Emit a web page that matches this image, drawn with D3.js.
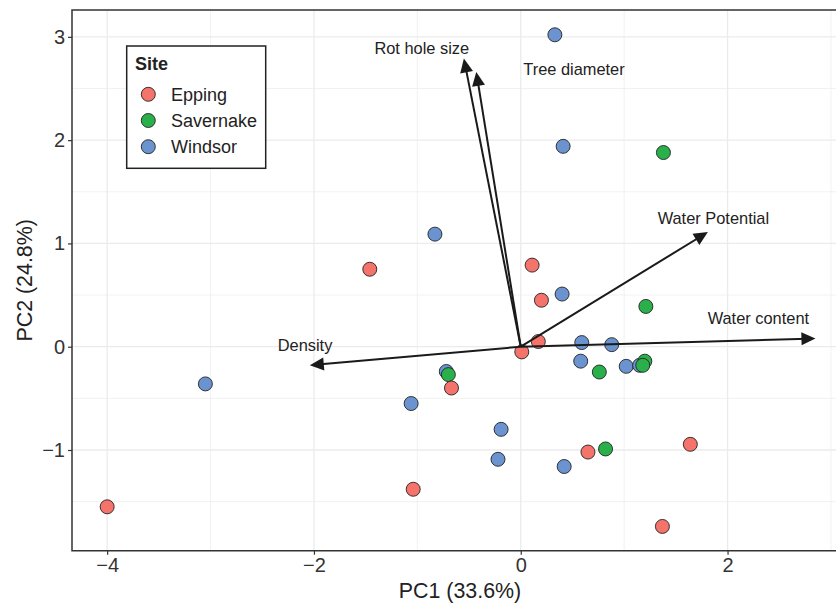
<!DOCTYPE html>
<html lang="en">
<head>
    <meta charset="UTF-8">
    <script src="https://d3js.org/d3.v7.min.js"></script>
    <style>
        body { margin: 0; background: #fff; font-family: "Liberation Sans", Arial, sans-serif; }
        svg { display: block; }
    </style>
</head>
<body>
<div id="chart"></div>
<script>
    // Site groups and colours
    const sites = ["Epping", "Savernake", "Windsor"];
    const siteColors = ["#F4736B", "#2AB04A", "#6A93D0"];

    // Site scores (PC1, PC2)
    const eppingPC1 = [-1.46, 0.11, 0.20, 0.17, 0.01, -0.67, -1.04, -4.00, 0.65, 1.64, 1.37];
    const eppingPC2 = [0.75, 0.79, 0.45, 0.05, -0.05, -0.40, -1.38, -1.55, -1.02, -0.945, -1.74];

    const savernakePC1 = [1.38, 1.21, 1.20, 1.18, 0.76, -0.70, 0.82];
    const savernakePC2 = [1.88, 0.39, -0.14, -0.18, -0.245, -0.27, -0.99];

    const windsorPC1 = [0.33, 0.41, -0.83, 0.40, 0.59, 0.88, 0.58, 1.02, 1.15, -0.72, -3.05, -1.06, -0.19, -0.22, 0.42];
    const windsorPC2 = [3.02, 1.94, 1.09, 0.51, 0.04, 0.02, -0.14, -0.19, -0.18, -0.24, -0.36, -0.55, -0.80, -1.09, -1.16];

    // Loadings (arrows) and their label positions
    const varNames = ["Rot hole size", "Tree diameter", "Water Potential", "Water content", "Density"];
    const loadPC1 = [-0.55, -0.43, 1.81, 2.85, -2.04];
    const loadPC2 = [2.79, 2.66, 1.11, 0.08, -0.18];
    const labelPC1 = [-0.957, 0.515, 1.863, 2.298, -2.086];
    const labelPC2 = [2.889, 2.688, 1.243, 0.275, 0.016];

    // Axis ticks
    const xTicks = [-4, -2, 0, 2];
    const yTicks = [-1, 0, 1, 2, 3];
    const xMinor = [-3, -1, 1, 3];
    const yMinor = [-1.5, -0.5, 0.5, 1.5, 2.5];

    const W = 836, H = 604;
    const panel = {left: 72, right: 848, top: 10, bottom: 550.7};

    const svg = d3.select("#chart").append("svg")
        .attr("width", W).attr("height", H);

    const x = d3.scaleLinear().domain([-4.34, 3.165]).range([panel.left, panel.right]);
    const y = d3.scaleLinear().domain([-1.975, 3.26]).range([panel.bottom, panel.top]);

    const fmt = d => (d < 0 ? "\u2212" + Math.abs(d) : "" + d);

    // Grid lines
    const grid = svg.append("g");
    grid.selectAll(".vminor").data(xMinor).join("line")
        .attr("x1", d => x(d)).attr("x2", d => x(d))
        .attr("y1", panel.top).attr("y2", panel.bottom)
        .attr("stroke", "#ededed").attr("stroke-width", 0.8);
    grid.selectAll(".hminor").data(yMinor).join("line")
        .attr("y1", d => y(d)).attr("y2", d => y(d))
        .attr("x1", panel.left).attr("x2", panel.right)
        .attr("stroke", "#ededed").attr("stroke-width", 0.8);
    grid.selectAll(".vmajor").data(xTicks).join("line")
        .attr("x1", d => x(d)).attr("x2", d => x(d))
        .attr("y1", panel.top).attr("y2", panel.bottom)
        .attr("stroke", "#ebebeb").attr("stroke-width", 1.3);
    grid.selectAll(".hmajor").data(yTicks).join("line")
        .attr("y1", d => y(d)).attr("y2", d => y(d))
        .attr("x1", panel.left).attr("x2", panel.right)
        .attr("stroke", "#ebebeb").attr("stroke-width", 1.3);

    // Points (Windsor, Savernake, Epping draw order)
    const pts = [];
    windsorPC1.forEach((v, i) => pts.push({pc1: v, pc2: windsorPC2[i], site: "Windsor"}));
    savernakePC1.forEach((v, i) => pts.push({pc1: v, pc2: savernakePC2[i], site: "Savernake"}));
    eppingPC1.forEach((v, i) => pts.push({pc1: v, pc2: eppingPC2[i], site: "Epping"}));

    const color = d3.scaleOrdinal().domain(sites).range(siteColors);

    svg.append("g").selectAll("circle").data(pts).join("circle")
        .attr("cx", d => x(d.pc1))
        .attr("cy", d => y(d.pc2))
        .attr("r", 7)
        .attr("fill", d => color(d.site))
        .attr("stroke", "#222")
        .attr("stroke-width", 0.9);

    // Loading arrows
    const arrows = varNames.map((n, i) => ({name: n, pc1: loadPC1[i], pc2: loadPC2[i], lx: labelPC1[i], ly: labelPC2[i]}));
    const ag = svg.append("g");
    arrows.forEach(a => {
        const x0 = x(0), y0 = y(0), x1 = x(a.pc1), y1 = y(a.pc2);
        const ang = Math.atan2(y1 - y0, x1 - x0);
        const len = Math.hypot(x1 - x0, y1 - y0) - 8;
        ag.append("line")
            .attr("x1", x0).attr("y1", y0)
            .attr("x2", x0 + len * Math.cos(ang)).attr("y2", y0 + len * Math.sin(ang))
            .attr("stroke", "#1a1a1a").attr("stroke-width", 2);
        ag.append("path")
            .attr("d", "M0,0 L-14,-6.5 L-14,6.5 Z")
            .attr("fill", "#1a1a1a")
            .attr("transform", `translate(${x1},${y1}) rotate(${ang * 180 / Math.PI})`);
        ag.append("text")
            .attr("x", x(a.lx)).attr("y", y(a.ly))
            .attr("dy", "0.35em")
            .attr("text-anchor", "middle")
            .style("font-size", "16.4px")
            .style("fill", "#222")
            .text(a.name);
    });

    // Panel border (left, top, bottom)
    svg.append("path")
        .attr("d", `M${panel.right},${panel.top} H${panel.left} V${panel.bottom} H${panel.right}`)
        .attr("fill", "none").attr("stroke", "#333").attr("stroke-width", 1.5);

    // Axes
    const xAxis = svg.append("g")
        .attr("transform", `translate(0,${panel.bottom})`)
        .call(d3.axisBottom(x).tickValues(xTicks).tickFormat(fmt).tickSize(4).tickPadding(3));
    xAxis.select(".domain").remove();
    xAxis.selectAll("line").attr("stroke", "#333").attr("stroke-width", 1.2);
    xAxis.selectAll("text").style("font-size", "20px").style("fill", "#333")
        .style("font-family", "'Liberation Sans', Arial, sans-serif");

    const yAxis = svg.append("g")
        .attr("transform", `translate(${panel.left},0)`)
        .call(d3.axisLeft(y).tickValues(yTicks).tickFormat(fmt).tickSize(4).tickPadding(3));
    yAxis.select(".domain").remove();
    yAxis.selectAll("line").attr("stroke", "#333").attr("stroke-width", 1.2);
    yAxis.selectAll("text").style("font-size", "20px").style("fill", "#333")
        .style("font-family", "'Liberation Sans', Arial, sans-serif");

    // Axis titles
    svg.append("text")
        .attr("x", (panel.left + panel.right) / 2).attr("y", 598)
        .attr("text-anchor", "middle")
        .style("font-size", "21.4px").style("fill", "#222")
        .text("PC1 (33.6%)");
    svg.append("text")
        .attr("transform", `translate(24,${(panel.top + panel.bottom) / 2}) rotate(-90)`)
        .attr("dy", "0.35em")
        .attr("text-anchor", "middle")
        .style("font-size", "21.4px").style("fill", "#222")
        .text("PC2 (24.8%)");

    // Legend
    const lg = svg.append("g");
    lg.append("rect")
        .attr("x", 126.7).attr("y", 46).attr("width", 139).attr("height", 122.3)
        .attr("fill", "#fff").attr("stroke", "#222").attr("stroke-width", 1.5);
    lg.append("text")
        .attr("x", 135).attr("y", 63.5).attr("dy", "0.35em")
        .style("font-size", "18px").style("font-weight", "bold").style("fill", "#222")
        .text("Site");
    sites.forEach((s, i) => {
        lg.append("circle")
            .attr("cx", 148.3).attr("cy", 94.3 + i * 26.2).attr("r", 7)
            .attr("fill", color(s)).attr("stroke", "#222").attr("stroke-width", 0.9);
        lg.append("text")
            .attr("x", 171).attr("y", 94.3 + i * 26.2).attr("dy", "0.35em")
            .style("font-size", "18px").style("fill", "#222")
            .text(s);
    });
</script>
</body>
</html>
